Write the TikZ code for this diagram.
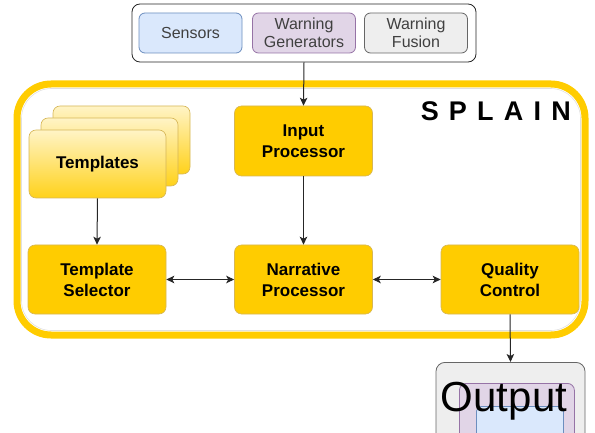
\documentclass[tikz,border=0pt]{standalone}
\usepackage{fontspec}
\setmainfont{Liberation Sans}
\usetikzlibrary{arrows.meta}
\definecolor{yel}{HTML}{FFCC00}
\definecolor{yelborder}{HTML}{D6B656}
\definecolor{gradtop}{HTML}{FFF4C6}
\definecolor{gradbot}{HTML}{FFD21A}
\definecolor{bluefill}{HTML}{DAE8FC}
\definecolor{blueline}{HTML}{6C8EBF}
\definecolor{purpfill}{HTML}{E1D5E7}
\definecolor{purpline}{HTML}{9673A6}
\definecolor{grayfill}{HTML}{EEEEEE}
\definecolor{grayline}{HTML}{666666}
\tikzset{
  ybox/.style={draw=yelborder, fill=yel, rounded corners=7pt, minimum width=138pt, minimum height=69pt,
    align=center, font=\fontsize{17}{21}\selectfont\bfseries, line width=0.6pt},
  tbox/.style={draw=yelborder, top color=gradtop, bottom color=gradbot, rounded corners=7pt,
    minimum width=137pt, minimum height=68pt, align=center, font=\fontsize{17}{21}\selectfont\bfseries, line width=0.6pt},
  sbox/.style={rounded corners=6pt, minimum width=103pt, minimum height=40pt, align=center,
    font=\fontsize{16}{18}\selectfont, text=black!75, line width=0.8pt},
  tip/.style={Stealth[length=8pt,width=7.5pt,inset=2pt]},
  arr/.style={-{Stealth[length=8pt,width=7.5pt,inset=2pt]}, line width=1pt, black!85},
  darr/.style={{Stealth[length=8pt,width=7.5pt,inset=2pt]}-{Stealth[length=8pt,width=7.5pt,inset=2pt]}, line width=1pt, black!85},
}
\begin{document}
\begin{tikzpicture}[x=1pt,y=-1pt]
\useasboundingbox (0,0) rectangle (595,433);
\clip (0,0) rectangle (595,433);
% top container
\node[draw=black!85, fill=white, rounded corners=8pt, minimum width=344pt, minimum height=58pt, line width=0.8pt] (src) at (304,33) {};
\node[sbox, draw=blueline, fill=bluefill] (sens) at (190.5,33) {Sensors};
\node[sbox, draw=purpline, fill=purpfill] (wgen) at (304,33) {Warning\\Generators};
\node[sbox, draw=grayline, fill=grayfill] (wfus) at (416,33) {Warning\\Fusion};
% SPLAIN frame
\draw[yel, line width=7pt, rounded corners=34pt] (17,84) rectangle (585,335);
\draw[black!12, line width=0.6pt, rounded corners=30pt] (21.5,88.5) rectangle (580.5,330.5);
\node[anchor=base east, font=\fontsize{27}{30}\selectfont\bfseries, inner sep=0pt] (splain) at (571,121)
  {S\hspace{10.2pt}P\hspace{10.2pt}L\hspace{10.2pt}A\hspace{10.2pt}I\hspace{10.2pt}N};
% templates stack
\node[tbox] (t3) at (121.5,140) {};
\node[tbox] (t2) at (109.5,152) {};
\node[tbox] (tmpl) at (97.5,164) {\raisebox{-2pt}{Templates}};
% main boxes
\node[ybox, minimum height=70pt] (inp) at (303.5,141) {Input\\Processor};
\node[ybox] (tsel) at (97,279.5) {Template\\Selector};
\node[ybox] (narr) at (303.5,279.5) {Narrative\\Processor};
\node[ybox] (qual) at (510,279.5) {Quality\\Control};
% output
\node[draw=grayline, fill=grayfill, rounded corners=9pt, minimum width=149pt, minimum height=90pt, anchor=north, line width=0.8pt] (outbox) at (510.5,362) {};
\node[draw=purpline, fill=purpfill, rounded corners=7pt, minimum width=115pt, minimum height=80pt, anchor=north west, line width=0.8pt] (outp) at (459,383) {};
\node[draw=blueline, fill=bluefill, rounded corners=5pt, minimum width=87pt, minimum height=60pt, anchor=north west, line width=0.8pt] (outb) at (476,406) {};
\node[anchor=base, font=\fontsize{42}{42}\selectfont, inner sep=0pt] (outtxt) at (504,411) {Output};
% connectors
\draw[arr] (src.south) -- (inp.north);
\draw[arr] (tmpl.south) -- (tsel.north);
\draw[arr] (inp.south) -- (narr.north);
\draw[darr] (tsel.east) -- (narr.west);
\draw[darr] (narr.east) -- (qual.west);
\draw[arr] (qual.south) -- (outbox.north);
\end{tikzpicture}
\end{document}
